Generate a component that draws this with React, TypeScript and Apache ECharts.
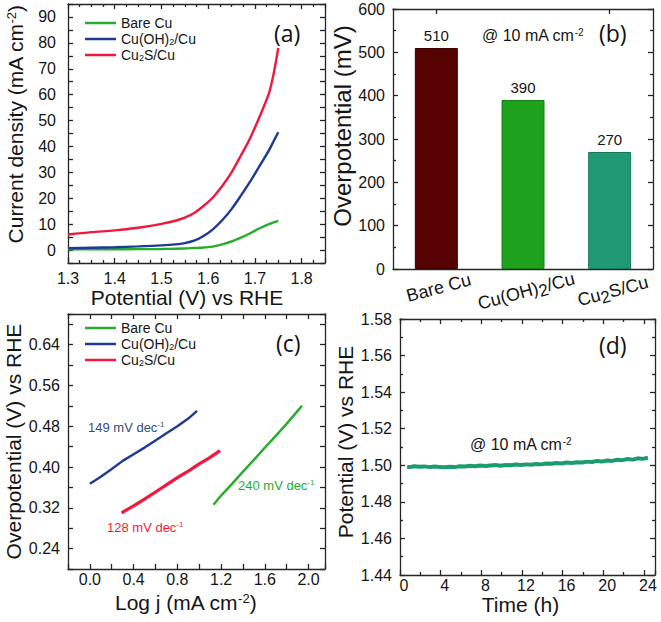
import React, { useEffect, useRef } from 'react';
import * as echarts from 'echarts';

// ---------- Panel (a): LSV curves ----------
const potentialA = [1.30, 1.35, 1.40, 1.45, 1.50, 1.53, 1.55, 1.57, 1.59, 1.61, 1.63, 1.65, 1.67, 1.69, 1.71, 1.73, 1.74, 1.75];
const bareCuA = [0.3, 0.3, 0.3, 0.35, 0.4, 0.5, 0.6, 0.8, 1.0, 1.3, 2.2, 3.3, 4.8, 6.5, 8.4, 10.0, 10.7, 11.3];
const cuOHA = [0.7, 0.9, 1.1, 1.4, 1.8, 2.2, 2.7, 3.6, 5.4, 8.0, 11.5, 15.8, 21.0, 26.5, 32.5, 38.5, 42.0, 45.5];
const cu2SA = [6.0, 6.9, 7.6, 8.6, 10.1, 11.3, 12.5, 14.3, 17.0, 20.3, 24.7, 30.0, 36.5, 43.3, 51.5, 60.5, 68.0, 78.0];

// ---------- Panel (b): overpotential bars ----------
const catsB = ['Bare Cu', 'Cu(OH)2/Cu', 'Cu2S/Cu'];
const overpotB = [510, 390, 270];

// ---------- Panel (c): Tafel plots ----------
const cuOHCx = [0.0, 0.1, 0.2, 0.3, 0.4, 0.5, 0.6, 0.7, 0.8, 0.9, 0.98];
const cuOHCy = [0.367, 0.381, 0.396, 0.412, 0.425, 0.438, 0.452, 0.466, 0.480, 0.495, 0.510];
const cu2SCx = [0.29, 0.4, 0.5, 0.6, 0.7, 0.8, 0.9, 1.0, 1.1, 1.19];
const cu2SCy = [0.310, 0.324, 0.337, 0.351, 0.365, 0.379, 0.392, 0.406, 0.419, 0.432];
const bareCx = [1.13, 1.2, 1.3, 1.4, 1.5, 1.6, 1.7, 1.8, 1.9, 1.94];
const bareCy = [0.326, 0.344, 0.367, 0.391, 0.414, 0.438, 0.461, 0.485, 0.510, 0.520];

// ---------- Panel (d): stability ----------
const timeD = [0.3, 0.5, 1, 1.5, 2, 2.5, 3, 3.5, 4, 4.5, 5, 5.5, 6, 6.5, 7, 7.5, 8, 8.5, 9, 9.5, 10, 10.5, 11, 11.5, 12, 12.5, 13, 13.5, 14, 14.5, 15, 15.5, 16, 16.5, 17, 17.5, 18, 18.5, 19, 19.5, 20, 20.5, 21, 21.5, 22, 22.5, 23, 23.5, 24];
const potD = [1.4993, 1.4990, 1.4995, 1.4992, 1.4994, 1.4990, 1.4993, 1.4991, 1.4989, 1.4992, 1.4990, 1.4995, 1.4993, 1.4997, 1.4995, 1.4999, 1.4996, 1.4999, 1.5001, 1.4998, 1.5002, 1.5000, 1.5004, 1.5001, 1.5005, 1.5003, 1.5007, 1.5005, 1.5010, 1.5008, 1.5012, 1.5010, 1.5015, 1.5013, 1.5017, 1.5015, 1.5020, 1.5018, 1.5024, 1.5021, 1.5026, 1.5024, 1.5030, 1.5028, 1.5034, 1.5031, 1.5038, 1.5035, 1.5041];

// ---------- tick labels ----------
const ticksAx = [1.3, 1.4, 1.5, 1.6, 1.7, 1.8];
const ticksAy = [0, 10, 20, 30, 40, 50, 60, 70, 80, 90];
const ticksBy = [0, 100, 200, 300, 400, 500, 600];
const ticksCx = [0.0, 0.4, 0.8, 1.2, 1.6, 2.0];
const ticksCy = [0.24, 0.32, 0.40, 0.48, 0.56, 0.64];
const ticksDx = [0, 4, 8, 12, 16, 20, 24];
const ticksDy = [1.44, 1.46, 1.48, 1.50, 1.52, 1.54, 1.56, 1.58];

const seriesNames = ['Bare Cu', 'Cu(OH)2/Cu', 'Cu2S/Cu'];

const FONT = 'Liberation Sans';
const AX = '#262626';
const GREEN = '#27ad2b';
const BLUE = '#1f3a96';
const RED = '#f2183c';

const zip = (xs: number[], ys: number[]) => xs.map((x, i) => [x, ys[i]]);

function valueAxes(dim: 'x' | 'y', grid: number, c: any) {
  const pos = dim === 'x' ? ['bottom', 'top'] : ['left', 'right'];
  const lineStyle = { color: AX, width: 1.3 };
  const tickStyle = { color: AX, width: 1.3 };
  const common = {
    type: 'value', gridIndex: grid, min: c.min, max: c.max, interval: c.interval, splitLine: { show: false },
    axisLine: { show: true, onZero: false, lineStyle },
    axisTick: { show: true, inside: true, length: 5, lineStyle: tickStyle },
    minorTick: { show: !!c.minorSplit, splitNumber: c.minorSplit || 2, length: 3, lineStyle: tickStyle },
    minorSplitLine: { show: false },
  };
  return [
    {
      ...common,
      position: pos[0],
      axisLabel: { customValues: c.majors, formatter: c.fmt, margin: c.margin, fontSize: 16, color: '#151515', fontFamily: FONT },
      name: c.name,
      nameLocation: 'middle',
      nameGap: c.nameGap,
      nameTextStyle: {
        fontSize: c.nameSize, color: '#151515', fontFamily: FONT, padding: c.namePad || 0,
        rich: { sup: { fontSize: Math.round(c.nameSize * 0.6), verticalAlign: 'top', fontFamily: FONT, color: '#151515' } },
      },
    },
    { ...common, position: pos[1], axisLabel: { show: false } },
  ];
}

const fmtName = (n: string) =>
  n === 'Cu(OH)2/Cu' ? 'Cu(OH){sub|2}/Cu' : n === 'Cu2S/Cu' ? 'Cu{sub|2}S/Cu' : n;
const fmtCat = (n: string) =>
  n === 'Cu(OH)2/Cu' ? 'Cu(OH){s|2}/Cu' : n === 'Cu2S/Cu' ? 'Cu{s|2}S/Cu' : n;

export default function App() {
  const ref = useRef<HTMLDivElement>(null);
  useEffect(() => {
    const chart = echarts.init(ref.current!, null, { renderer: 'svg' });
    const xAxes: any[] = [];
    const yAxes: any[] = [];
    const addX = (arr: any[]) => { const i = xAxes.length; xAxes.push(...arr); return i; };
    const addY = (arr: any[]) => { const i = yAxes.length; yAxes.push(...arr); return i; };

    // (a)
    const axA = addX(valueAxes('x', 0, { min: 1.3, max: 1.85, interval: 0.1, minorSplit: 4, majors: ticksAx, fmt: (v: number) => v.toFixed(1), margin: 7, name: 'Potential (V) vs RHE', nameGap: 24, nameSize: 21, namePad: [0, 19, 0, 0] }));
    const ayA = addY(valueAxes('y', 0, { min: -5, max: 95, interval: 5, minorSplit: 0, majors: ticksAy, fmt: (v: number) => String(v), margin: 12, name: 'Current density (mA cm{sup|-2})', nameGap: 42, nameSize: 21, namePad: [0, 0, 0, 18] }));
    // (b)
    const cat = {
      type: 'category', gridIndex: 1, data: catsB, boundaryGap: true,
      axisLine: { show: true, onZero: false, lineStyle: { color: AX, width: 1.3 } },
      axisTick: { show: true, inside: true, alignWithLabel: true, length: 5, lineStyle: { color: AX, width: 1.3 } },
      splitLine: { show: false },
    };
    const axB = addX([
      {
        ...cat, position: 'bottom',
        axisLabel: {
          interval: 0, rotate: 15, align: 'center', verticalAlign: 'top', margin: 10, fontSize: 18, color: '#151515', fontFamily: FONT,
          formatter: fmtCat, rich: { s: { fontSize: 17, padding: [8, 0, 0, 0], fontFamily: FONT, color: '#151515' } },
        },
      },
      { ...cat, position: 'top', axisLabel: { show: false } },
    ]);
    const ayB = addY(valueAxes('y', 1, { min: 0, max: 600, interval: 100, minorSplit: 2, majors: ticksBy, fmt: (v: number) => String(v), margin: 8, name: 'Overpotential (mV)', nameGap: 37, nameSize: 24, namePad: [0, 0, 0, 26] }));
    // (c)
    const axC = addX(valueAxes('x', 2, { min: -0.2, max: 2.15, interval: 0.2, minorSplit: 0, majors: ticksCx, fmt: (v: number) => v.toFixed(1), margin: 2, name: 'Log j (mA cm{sup|-2})', nameGap: 23, nameSize: 21, namePad: [0, 22, 0, 0] }));
    const ayC = addY(valueAxes('y', 2, { min: 0.2, max: 0.7, interval: 0.04, minorSplit: 0, majors: ticksCy, fmt: (v: number) => v.toFixed(2), margin: 8, name: 'Overpotential (V) vs RHE', nameGap: 44, nameSize: 21 }));
    // (d)
    const axD = addX(valueAxes('x', 3, { min: -0.4, max: 24.7, interval: 4, minorSplit: 2, majors: ticksDx, fmt: (v: number) => String(v), margin: 2, name: 'Time (h)', nameGap: 18, nameSize: 21, namePad: [0, 14, 0, 0] }));
    const ayD = addY(valueAxes('y', 3, { min: 1.44, max: 1.58, interval: 0.02, minorSplit: 2, majors: ticksDy, fmt: (v: number) => v.toFixed(2), margin: 8, name: 'Potential (V) vs RHE', nameGap: 44, nameSize: 21, namePad: [0, 0, 0, 10] }));

    const lineS = (name: string, color: string, xi: number, yi: number, data: number[][], w = 2.4, smooth: any = false) => ({
      type: 'line', name, xAxisIndex: xi, yAxisIndex: yi, data, showSymbol: false, smooth,
      lineStyle: { color, width: w }, itemStyle: { color },
    });

    const legendBase = {
      orient: 'vertical', left: 80, itemWidth: 31, itemHeight: 2.5, icon: 'rect', itemGap: 2, selectedMode: false,
      formatter: fmtName, data: seriesNames,
      textStyle: { fontSize: 14, fontFamily: FONT, color: '#151515', rich: { sub: { fontSize: 9, verticalAlign: 'bottom', fontFamily: FONT, color: '#151515' } } },
    };

    const supRich = (size: number, color: string) => ({ sup: { fontSize: size, verticalAlign: 'top', fill: color, fontFamily: FONT } });
    const txt = (text: string, x: number, y: number, size: number, color: string, family = FONT, rich?: any) => ({
      type: 'text', x, y, z: 100,
      style: { text, fontSize: size, fontFamily: family, fill: color, verticalAlign: 'middle', rich },
    });

    const option: any = {
      animation: false,
      backgroundColor: '#ffffff',
      grid: [
        { left: 68, top: 4, width: 257, height: 259 },
        { left: 393, top: 9, width: 260, height: 260 },
        { left: 68, top: 314, width: 257, height: 255 },
        { left: 400, top: 319, width: 255, height: 256 },
      ],
      xAxis: xAxes,
      yAxis: yAxes,
      legend: [
        { ...legendBase, top: 11 },
        { ...legendBase, top: 316 },
      ],
      series: [
        lineS('Bare Cu', GREEN, axA, ayA, zip(potentialA, bareCuA), 2.4, 0.3),
        lineS('Cu(OH)2/Cu', BLUE, axA, ayA, zip(potentialA, cuOHA), 2.4, 0.3),
        lineS('Cu2S/Cu', RED, axA, ayA, zip(potentialA, cu2SA), 2.4, 0.3),
        {
          type: 'bar', xAxisIndex: axB, yAxisIndex: ayB, barWidth: 43,
          data: overpotB.map((v, i) => ({
            value: v,
            itemStyle: { color: ['#570202', '#1ea21e', '#1f9a72'][i], borderColor: ['#3a0000', '#168016', '#167a58'][i], borderWidth: 1 },
          })),
          label: { show: true, position: 'top', distance: 5, fontSize: 15, color: '#151515', fontFamily: FONT },
        },
        lineS('Bare Cu', GREEN, axC, ayC, zip(bareCx, bareCy), 2.4),
        lineS('Cu(OH)2/Cu', BLUE, axC, ayC, zip(cuOHCx, cuOHCy), 2.4),
        lineS('Cu2S/Cu', RED, axC, ayC, zip(cu2SCx, cu2SCy), 3.2),
        {
          type: 'line', name: 'stability', xAxisIndex: axD, yAxisIndex: ayD, data: zip(timeD, potD), showSymbol: false,
          lineStyle: { color: '#1b9c6c', width: 4 }, itemStyle: { color: '#1b9c6c' },
        },
      ],
      graphic: [
        txt('(a)', 274, 33, 23, '#111', 'Open Sans'),
        txt('(b)', 599, 33, 23, '#111', 'Open Sans'),
        txt('(c)', 276, 343, 23, '#111', 'Open Sans'),
        txt('(d)', 599, 345, 23, '#111', 'Open Sans'),
        txt('@ 10 mA cm{sup|-2}', 482, 35, 16, '#151515', FONT, supRich(10, '#151515')),
        txt('@ 10 mA cm{sup|-2}', 470, 444, 16, '#151515', FONT, supRich(10, '#151515')),
        txt('149 mV dec{sup|-1}', 88, 427, 13, '#3b4a78', FONT, supRich(8, '#3b4a78')),
        txt('128 mV dec{sup|-1}', 107, 527, 13, RED, FONT, supRich(8, RED)),
        txt('240 mV dec{sup|-1}', 238, 485, 13, GREEN, FONT, supRich(8, GREEN)),
      ],
    };
    chart.setOption(option);
    return () => chart.dispose();
  }, []);
  return <div ref={ref} style={{ position: 'fixed', left: 0, top: 0, width: 661, height: 622, background: '#fff' }} />;
}
